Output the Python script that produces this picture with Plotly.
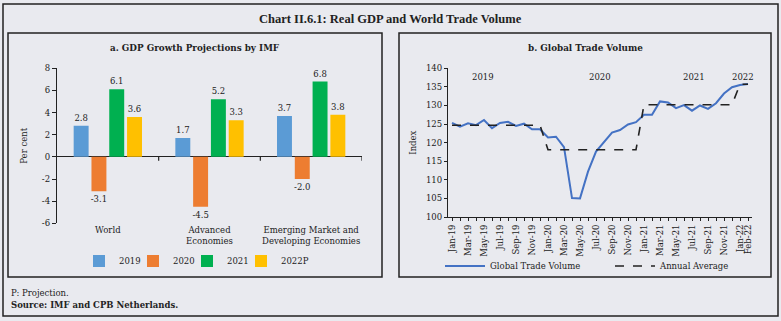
import plotly.graph_objects as go

# ---- Panel a: GDP growth projections (per cent) ----
regions = ["World", "Advanced<br>Economies", "Emerging Market and<br>Developing Economies"]
years = ["2019", "2020", "2021", "2022P"]
gdp_2019 = [2.8, 1.7, 3.7]
gdp_2020 = [-3.1, -4.5, -2.0]
gdp_2021 = [6.1, 5.2, 6.8]
gdp_2022p = [3.6, 3.3, 3.8]
bar_colors = ["#5b9bd5", "#ed7d31", "#00b050", "#ffc000"]
gdp_ticks = [-6, -4, -2, 0, 2, 4, 6, 8]
gdp_tick_text = ["-6", "-4", "-2", "0", "2", "4", "6", "8"]

# ---- Panel b: global trade volume index ----
months = [
    "Jan-19", "Feb-19", "Mar-19", "Apr-19", "May-19", "Jun-19", "Jul-19", "Aug-19",
    "Sep-19", "Oct-19", "Nov-19", "Dec-19",
    "Jan-20", "Feb-20", "Mar-20", "Apr-20", "May-20", "Jun-20", "Jul-20", "Aug-20",
    "Sep-20", "Oct-20", "Nov-20", "Dec-20",
    "Jan-21", "Feb-21", "Mar-21", "Apr-21", "May-21", "Jun-21", "Jul-21", "Aug-21",
    "Sep-21", "Oct-21", "Nov-21", "Dec-21",
    "Jan-22", "Feb-22",
]
trade_volume = [
    125.3, 124.3, 125.2, 124.7, 126.1, 123.9, 125.3, 125.6, 124.5, 125.1, 123.6, 123.6,
    121.4, 121.6, 118.8, 105.1, 105.0, 112.2, 117.6, 120.0, 122.7, 123.4, 124.9, 125.5,
    127.5, 127.5, 131.1, 130.8, 129.3, 130.1, 128.6, 130.0, 129.1, 130.6, 133.2, 134.9,
    135.5, 135.8,
]
annual_average = (
    [124.7] * 12 + [118.1] * 12 + [130.2] * 12 + [135.7] * 2
)
labelled_months = [
    "Jan-19", "Mar-19", "May-19", "Jul-19", "Sep-19", "Nov-19",
    "Jan-20", "Mar-20", "May-20", "Jul-20", "Sep-20", "Nov-20",
    "Jan-21", "Mar-21", "May-21", "Jul-21", "Sep-21", "Nov-21",
    "Jan-22", "Feb-22",
]
year_labels = ["2019", "2020", "2021", "2022"]
year_label_pos = [3.9, 18.5, 30.3, 36.4]

W, H = 781, 321
BG = "#e9eaef"
FONT = "DejaVu Serif"
TXT = "#222222"


def px_x(p):
    return p / W


def px_y(p):
    return 1 - p / H


fig = go.Figure()

for name, vals, col in zip(years, [gdp_2019, gdp_2020, gdp_2021, gdp_2022p], bar_colors):
    fig.add_trace(go.Bar(
        x=regions, y=vals, name=name, marker=dict(color=col, line=dict(width=0)),
        text=[f"{v:.1f}" for v in vals], textposition="outside",
        constraintext="none",
        textfont=dict(family=FONT, size=8.5, color=TXT),
        cliponaxis=False, xaxis="x", yaxis="y", legend="legend",
    ))

# Blank spacer entry so the last legend label of panel a has room to the right
fig.add_trace(go.Scatter(
    x=[None], y=[None], mode="markers", name=" ",
    marker=dict(color="rgba(0,0,0,0)", size=1), hoverinfo="skip",
    xaxis="x2", yaxis="y2", legend="legend",
))

fig.add_trace(go.Scatter(
    x=months, y=trade_volume, mode="lines", name="Global Trade Volume",
    line=dict(color="#4472c4", width=2), xaxis="x2", yaxis="y2", legend="legend2",
))
fig.add_trace(go.Scatter(
    x=months, y=annual_average, mode="lines", name="Annual Average",
    line=dict(color="#222222", width=1.6, dash="dash"), xaxis="x2", yaxis="y2",
    legend="legend2",
))

tick_font = dict(family=FONT, size=8.5, color=TXT)

fig.update_layout(
    width=W, height=H,
    margin=dict(l=0, r=0, t=0, b=0, autoexpand=False),
    paper_bgcolor=BG, plot_bgcolor=BG,
    font=dict(family=FONT, size=8.5, color=TXT),
    barmode="group", bargap=0.3, bargroupgap=0.16,
    xaxis=dict(
        domain=[px_x(57), px_x(362)], anchor="y", range=[-0.5, 2.5],
        showline=False, ticks="", showgrid=False, tickfont=tick_font,
    ),
    yaxis=dict(
        domain=[px_y(223.3), px_y(68.3)], anchor="x", range=[-6, 8],
        tickvals=gdp_ticks, ticktext=gdp_tick_text,
        showline=True, linecolor="#222", linewidth=1.3, ticks="outside", ticklen=4,
        tickcolor="#222", showgrid=False, zeroline=True, zerolinecolor="#222",
        zerolinewidth=1.3, tickfont=tick_font,
        title=dict(text="Per cent", font=tick_font, standoff=12),
    ),
    xaxis2=dict(
        domain=[px_x(448), px_x(752)], anchor="y2", type="category",
        range=[-0.5, len(months) - 0.5],
        tickvals=months,
        ticktext=[m if m in labelled_months else "" for m in months],
        tickangle=-90, ticks="outside", ticklen=3, tickcolor="#222",
        showline=True, linecolor="#222", linewidth=1.3, showgrid=False,
        tickfont=tick_font,
    ),
    yaxis2=dict(
        domain=[px_y(217), px_y(68.3)], anchor="x2", range=[100, 140], dtick=5,
        showline=True, linecolor="#222", linewidth=1.3, ticks="outside", ticklen=3,
        tickcolor="#222", showgrid=False, zeroline=False, tickfont=tick_font,
        title=dict(text="Index", font=tick_font, standoff=7),
    ),
    legend=dict(
        orientation="h", xref="container", yref="container",
        x=px_x(79), y=px_y(261), xanchor="left", yanchor="middle",
        entrywidth=9, itemwidth=30, bgcolor="rgba(0,0,0,0)",
        font=dict(family=FONT, size=8.5, color=TXT), traceorder="normal",
    ),
    legend2=dict(
        orientation="h", xref="container", yref="container",
        x=px_x(440), y=px_y(266), xanchor="left", yanchor="middle",
        entrywidth=115, itemwidth=40, bgcolor="rgba(0,0,0,0)",
        font=dict(family=FONT, size=8.5, color=TXT), traceorder="normal",
    ),
    showlegend=True,
)

# Category boundary ticks on the zero line of panel a
for b in [0.5, 1.5, 2.5]:
    fig.add_shape(type="line", xref="x", yref="y", x0=b, x1=b,
                  ysizemode="pixel", yanchor=0, y0=0, y1=-4,
                  line=dict(color="#222", width=1.2))

# Frames: outer box and the two panel boxes
frame = dict(color="#222", width=1.5)
fig.add_shape(type="rect", xref="paper", yref="paper",
              x0=px_x(3), x1=px_x(778), y0=px_y(316), y1=px_y(4), line=frame)
fig.add_shape(type="rect", xref="paper", yref="paper",
              x0=px_x(8), x1=px_x(382), y0=px_y(277), y1=px_y(33), line=frame)
fig.add_shape(type="rect", xref="paper", yref="paper",
              x0=px_x(399), x1=px_x(771), y0=px_y(277), y1=px_y(33), line=frame)

# Titles and notes
fig.add_annotation(text="<b>Chart II.6.1: Real GDP and World Trade Volume</b>",
                   xref="paper", yref="paper", x=px_x(390), y=px_y(19),
                   showarrow=False, xanchor="center", yanchor="middle",
                   font=dict(family="Liberation Serif", size=12.5, color=TXT))
fig.add_annotation(text="<b>a. GDP Growth Projections by IMF</b>",
                   xref="paper", yref="paper", x=px_x(195), y=px_y(48),
                   showarrow=False, xanchor="center", yanchor="middle",
                   font=dict(family=FONT, size=8.8, color=TXT))
fig.add_annotation(text="<b>b. Global Trade Volume</b>",
                   xref="paper", yref="paper", x=px_x(585), y=px_y(48),
                   showarrow=False, xanchor="center", yanchor="middle",
                   font=dict(family=FONT, size=8.8, color=TXT))
fig.add_annotation(text="P: Projection.",
                   xref="paper", yref="paper", x=px_x(9), y=px_y(293),
                   showarrow=False, xanchor="left", yanchor="middle",
                   font=dict(family=FONT, size=8.5, color=TXT))
fig.add_annotation(text="<b>Source: IMF and CPB Netherlands.</b>",
                   xref="paper", yref="paper", x=px_x(9), y=px_y(305),
                   showarrow=False, xanchor="left", yanchor="middle",
                   font=dict(family=FONT, size=8.5, color=TXT))

# Year markers inside panel b
for lbl, pos in zip(year_labels, year_label_pos):
    fig.add_annotation(text=lbl, xref="x2", yref="y2", x=pos, y=137.6,
                       showarrow=False, xanchor="center", yanchor="middle",
                       font=dict(family=FONT, size=8.5, color=TXT))

fig.write_html("out.html")
